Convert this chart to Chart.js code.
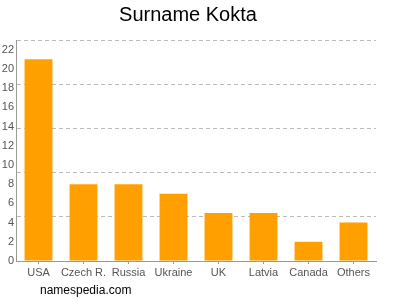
<!DOCTYPE html>
<html>
<head>
<meta charset="utf-8">
<script src="https://cdn.jsdelivr.net/npm/chart.js@4"></script>
<style>
html,body{margin:0;padding:0;background:#fff;}
#wrap{position:relative;width:400px;height:300px;}
#foot{position:absolute;left:40px;top:283px;font:12px "Liberation Sans",Arial,sans-serif;color:#000;}
</style>
</head>
<body>
<div id="wrap"><canvas id="c" width="400" height="300"></canvas><div id="foot">namespedia.com</div></div>
<script>
const categories = ['USA','Czech R.','Russia','Ukraine','UK','Latvia','Canada','Others'];
const counts = [21, 8, 8, 7, 5, 5, 2, 4];
const yTickLabels = [0,2,4,6,8,10,12,14,16,18,20,22];
const gridValues = [4.6, 9.2, 13.8, 18.4, 23];
const yMax = 23;

const FONT = '"Liberation Sans", Arial, sans-serif';

new Chart(document.getElementById('c'), {
  type: 'bar',
  data: {
    labels: categories,
    datasets: [{
      data: counts,
      backgroundColor: '#ffa000',
      borderWidth: 0,
      barPercentage: 0.62,
      categoryPercentage: 1.0
    }]
  },
  options: {
    responsive: false,
    animation: false,
    layout: { padding: { left: 0, right: 24, top: 0, bottom: 0 } },
    plugins: {
      legend: { display: false },
      tooltip: { enabled: false },
      title: {
        display: true,
        text: 'Surname Kokta',
        color: '#000',
        font: { family: FONT, size: 20, weight: 'normal' },
        padding: { top: 3, bottom: 13 }
      }
    },
    scales: {
      x: {
        grid: { display: true, offset: false, drawOnChartArea: false, color: '#999', tickLength: 3 },
        border: { display: true, color: '#999' },
        ticks: { color: '#555', font: { family: FONT, size: 11 }, padding: 2, maxRotation: 0, autoSkip: false },
        afterFit: (s) => { s.height = 39; }
      },
      y: {
        min: 0,
        max: yMax,
        afterBuildTicks: (s) => {
          const vals = [...yTickLabels, ...gridValues].sort((a,b)=>a-b);
          s.ticks = vals.map(v => ({ value: v }));
        },
        grid: {
          display: true,
          drawTicks: false,
          color: (ctx) => (ctx.tick && gridValues.includes(ctx.tick.value)) ? '#bbb' : 'rgba(0,0,0,0)',
          lineWidth: 1
        },
        border: { display: true, color: '#999', dash: [4,3] },
        ticks: {
          autoSkip: false,
          color: '#555',
          font: { family: FONT, size: 11 },
          padding: 2,
          callback: (v) => yTickLabels.includes(v) ? String(v) : ''
        },
        afterFit: (s) => { s.width = 16; }
      }
    }
  }
});
</script>
</body>
</html>
